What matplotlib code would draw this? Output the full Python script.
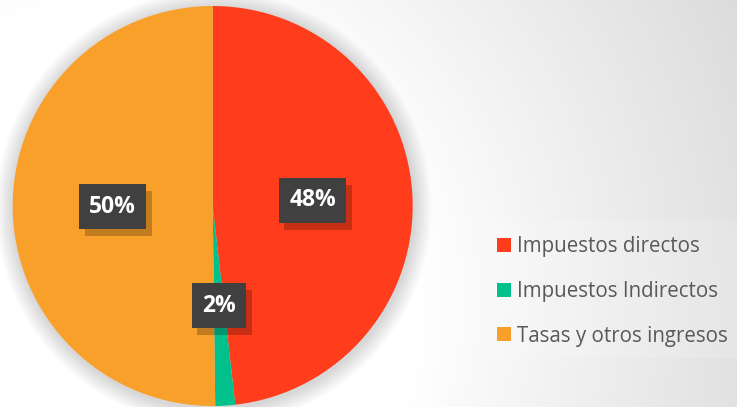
import matplotlib.pyplot as plt
import matplotlib.patheffects as pe
import numpy as np

# datos
categorias = ["Impuestos directos", "Impuestos Indirectos", "Tasas y otros ingresos"]
valores = [48.2, 1.6, 50.2]
colores = ["#FF3D1C", "#00C08B", "#F9A02A"]

W, H = 737, 407
fig = plt.figure(figsize=(W / 100, H / 100), dpi=100)

# fondo con degradado
bg = fig.add_axes([0, 0, 1, 1])
yy, xx = np.mgrid[0:H, 0:W]
d = np.hypot(xx - 120, yy - 300)
g = 1 - np.clip(d - 300, 0, None) * 0.00036
bg.imshow(np.dstack([g, g, g]), extent=[0, W, H, 0], aspect="auto")
# caja leyenda un poco mas clara
bg.add_patch(plt.Rectangle((485, 220), 252, 138, color="white", alpha=0.15, lw=0))
bg.set_xlim(0, W)
bg.set_ylim(H, 0)
bg.axis("off")

# sombra del circulo
cx, cy, r = 212.7, 206, 200
for k in range(8):
    bg.add_patch(plt.Circle((cx + 1, cy + 2), r + 2 + k * 2.2, color="black",
                            alpha=0.018, lw=0))

ax = fig.add_axes([(cx - r) / W, (H - cy - r) / H, 2 * r / W, 2 * r / H])
wedges, texts, autotexts = ax.pie(
    valores, colors=colores, startangle=90, counterclock=False,
    autopct=lambda p: "%d%%" % round(p), pctdistance=0.5,
    wedgeprops=dict(linewidth=0))
ax.set_xlim(-1, 1)
ax.set_ylim(-1, 1)
ax.set_aspect("auto")

for t in autotexts:
    t.set_color("white")
    t.set_fontsize(16.5)
    t.set_fontweight("bold")
    t.set_fontfamily("Open Sans")
    t.set_zorder(5)
    t.set_bbox(dict(boxstyle="square,pad=0.45", fc="#404040", lw=0))
    t.get_bbox_patch().set_path_effects(
        [pe.SimplePatchShadow(offset=(4, -5), shadow_rgbFace="black", alpha=0.22),
         pe.Normal()])

# leyenda
leg = fig.legend(wedges, categorias, loc="upper left",
                 bbox_to_anchor=(487 / W, 1 - 226 / H), frameon=False,
                 prop=dict(family="Open Sans", size=14.8), labelcolor="#595959",
                 handlelength=0.68, handleheight=0.68, handletextpad=0.3,
                 labelspacing=1.15, borderpad=0)

fig.savefig("out.png", dpi=100)
